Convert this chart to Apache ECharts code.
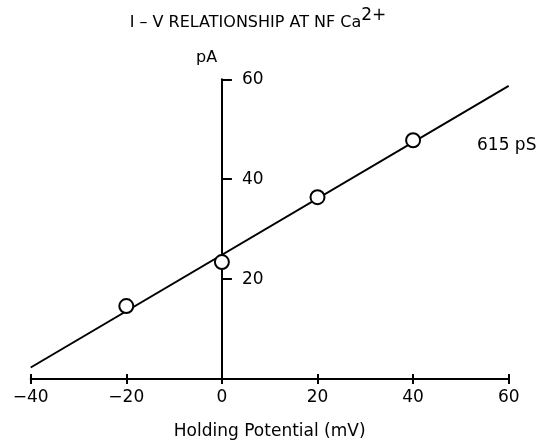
<!DOCTYPE html>
<html>
<head>
<meta charset="utf-8">
<script src="https://cdn.jsdelivr.net/npm/echarts@6/dist/echarts.min.js"></script>
<style>html,body{margin:0;padding:0;background:#fff}#c{width:547px;height:445px}</style>
</head>
<body>
<div id="c"></div>
<script>
// Data
const holdingPotential = [-20, 0, 20, 40];       // mV
const current = [14.6, 23.4, 36.4, 47.8];         // pA
const fitX = [-40, 60];                           // mV, fitted line ends
const fitY = [2.3, 58.7];                         // pA
const xTicks = [-40, -20, 0, 20, 40, 60];
const yTicks = [20, 40, 60];
const titleMain = 'I \u2013 V RELATIONSHIP AT NF Ca';
const titleSup = '2+';
const xName = 'Holding Potential (mV)';
const yName = 'pA';
const slopeLabel = '615 pS';

const FONT = '"DejaVu Sans", "Liberation Sans", sans-serif';
const X_MIN = -40, X_MAX = 60;
const GRID_LEFT = 30.7, GRID_RIGHT = 38.3;
const plotW = 547 - GRID_LEFT - GRID_RIGHT;
const yAxisOffset = -((0 - X_MIN) / (X_MAX - X_MIN)) * plotW; // place y axis at x = 0

const chart = echarts.init(document.getElementById('c'), null, {renderer: 'canvas'});
chart.setOption({
  animation: false,
  backgroundColor: '#fff',
  title: {
    text: '{m|' + titleMain + '}{s|' + titleSup + '}',
    left: 253, top: 2, textAlign: 'center',
    textStyle: {
      rich: {
        m: {fontFamily: FONT, fontSize: 16, fontWeight: 'normal', color: '#000', verticalAlign: 'bottom', lineHeight: 24},
        s: {fontFamily: FONT, fontSize: 17, fontWeight: 'normal', color: '#000', verticalAlign: 'top', lineHeight: 24, padding: [0, 0, 8, 0]}
      }
    }
  },
  grid: {left: GRID_LEFT, right: GRID_RIGHT, top: 79.3, bottom: 64.5, containLabel: false},
  xAxis: [{
    type: 'value', min: X_MIN, max: X_MAX, interval: 20,
    name: xName, nameLocation: 'middle', nameGap: 44,
    nameTextStyle: {fontFamily: FONT, fontSize: 17, color: '#000'},
    axisLine: {onZero: false, lineStyle: {color: '#000', width: 2}},
    axisTick: {show: true, length: 5, lineStyle: {color: '#000', width: 2}, customValues: xTicks},
    axisLabel: {fontFamily: FONT, fontSize: 17, color: '#000', margin: 10, customValues: xTicks,
      formatter: v => (v < 0 ? '\u2212' + Math.abs(v) : String(v))},
    splitLine: {show: false}
  }, {
    type: 'value', min: X_MIN, max: X_MAX, interval: 20, position: 'bottom', offset: 0,
    axisLine: {show: false},
    axisTick: {show: true, inside: true, length: 5, lineStyle: {color: '#000', width: 2}, customValues: xTicks},
    axisLabel: {show: false},
    splitLine: {show: false}
  }],
  yAxis: {
    type: 'value', min: 0, max: 60, interval: 20, position: 'left', offset: yAxisOffset,
    axisLine: {onZero: false, lineStyle: {color: '#000', width: 2}},
    axisTick: {show: true, inside: true, length: 10, lineStyle: {color: '#000', width: 2}, customValues: yTicks},
    axisLabel: {inside: true, margin: 20, fontFamily: FONT, fontSize: 17, color: '#000', customValues: yTicks},
    splitLine: {show: false}
  },
  graphic: [
    {type: 'text', left: 196, top: 50, style: {text: yName, font: '16px ' + FONT, fill: '#000'}},
    {type: 'text', left: 477, top: 137, style: {text: slopeLabel, font: '17px ' + FONT, fill: '#000'}}
  ],
  series: [{
    type: 'line', data: fitX.map((x, i) => [x, fitY[i]]),
    showSymbol: false, symbol: 'none', lineStyle: {color: '#000', width: 2}, z: 2
  }, {
    type: 'scatter', data: holdingPotential.map((x, i) => [x, current[i]]),
    symbol: 'circle', symbolSize: 14,
    itemStyle: {color: '#fff', borderColor: '#000', borderWidth: 2, opacity: 1}, z: 3
  }]
});
</script>
</body>
</html>
